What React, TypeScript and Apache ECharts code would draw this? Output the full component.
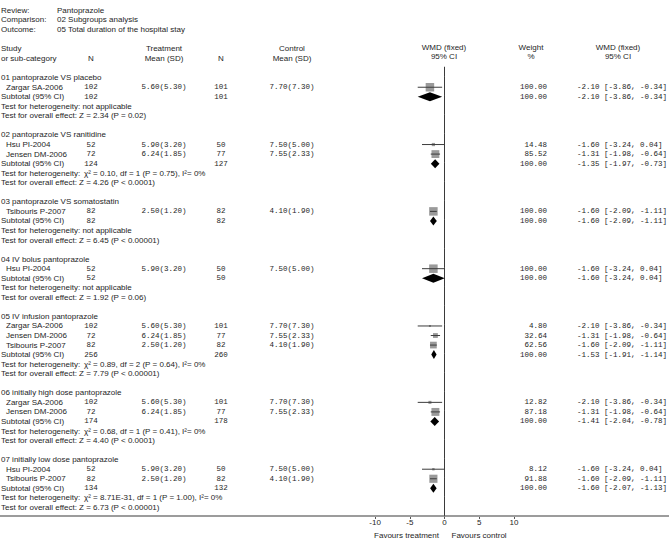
import React, { useEffect, useRef } from "react";
import * as echarts from "echarts";

const reviewLabels = ["Review:", "Comparison:", "Outcome:"];
const reviewValues = ["Pantoprazole", "02 Subgroups analysis", "05 Total duration of the hospital stay"];

const groupNames = [
  "01 pantoprazole VS placebo",
  "02 pantoprazole VS ranitidine",
  "03 pantoprazole VS somatostatin",
  "04 IV bolus pantoprazole",
  "05 IV infusion pantoprazole",
  "06 initially high dose pantoprazole",
  "07 initially low dose pantoprazole",
];

const studyGroup = [0, 1, 1, 2, 3, 4, 4, 4, 5, 5, 6, 6];
const studyNames = [
  "Zargar SA-2006", "Hsu PI-2004", "Jensen DM-2006", "Tsibouris P-2007", "Hsu PI-2004",
  "Zargar SA-2006", "Jensen DM-2006", "Tsibouris P-2007", "Zargar SA-2006", "Jensen DM-2006",
  "Hsu PI-2004", "Tsibouris P-2007",
];
const treatN = [102, 52, 72, 82, 52, 102, 72, 82, 102, 72, 52, 82];
const treatMeanSD = [
  "5.60(5.30)", "5.90(3.20)", "6.24(1.85)", "2.50(1.20)", "5.90(3.20)", "5.60(5.30)",
  "6.24(1.85)", "2.50(1.20)", "5.60(5.30)", "6.24(1.85)", "5.90(3.20)", "2.50(1.20)",
];
const ctrlN = [101, 50, 77, 82, 50, 101, 77, 82, 101, 77, 50, 82];
const ctrlMeanSD = [
  "7.70(7.30)", "7.50(5.00)", "7.55(2.33)", "4.10(1.90)", "7.50(5.00)", "7.70(7.30)",
  "7.55(2.33)", "4.10(1.90)", "7.70(7.30)", "7.55(2.33)", "7.50(5.00)", "4.10(1.90)",
];
const studyWeight = [100.0, 14.48, 85.52, 100.0, 100.0, 4.8, 32.64, 62.56, 12.82, 87.18, 8.12, 91.88];
const studyWmd = [-2.1, -1.6, -1.31, -1.6, -1.6, -2.1, -1.31, -1.6, -2.1, -1.31, -1.6, -1.6];
const studyLow = [-3.86, -3.24, -1.98, -2.09, -3.24, -3.86, -1.98, -2.09, -3.86, -1.98, -3.24, -2.09];
const studyHigh = [-0.34, 0.04, -0.64, -1.11, 0.04, -0.34, -0.64, -1.11, -0.34, -0.64, 0.04, -1.11];

const subTreatN = [102, 124, 82, 52, 256, 174, 134];
const subCtrlN = [101, 127, 82, 50, 260, 178, 132];
const subWmd = [-2.1, -1.35, -1.6, -1.6, -1.53, -1.41, -1.6];
const subLow = [-3.86, -1.97, -2.09, -3.24, -1.91, -2.04, -2.07];
const subHigh = [-0.34, -0.73, -1.11, 0.04, -1.14, -0.78, -1.13];
const hetTests = [
  "not applicable",
  "χ² = 0.10, df = 1 (P = 0.75), I²= 0%",
  "not applicable",
  "not applicable",
  "χ² = 0.89, df = 2 (P = 0.64), I²= 0%",
  "χ² = 0.68, df = 1 (P = 0.41), I²= 0%",
  "χ² = 8.71E-31, df = 1 (P = 1.00), I²= 0%",
];
const overallTests = [
  "Z = 2.34 (P = 0.02)",
  "Z = 4.26 (P < 0.0001)",
  "Z = 6.45 (P < 0.00001)",
  "Z = 1.92 (P = 0.06)",
  "Z = 7.79 (P < 0.00001)",
  "Z = 4.40 (P < 0.0001)",
  "Z = 6.73 (P < 0.00001)",
];
const xTicks = [-10, -5, 0, 5, 10];
const nullEffect = 0;
const favourLabels = ["Favours treatment", "Favours control"];

// layout
const W = 669;
const H = 542;
const ROW0 = 77.7;
const ROWH = 9.549;
const Y_MIN = -1.15;
const Y_MAX = 45.9;
const ZERO_X = 444.5;
const PX_PER_UNIT = 6.94;
const SANS = "'Liberation Sans', Arial, sans-serif";
const MONO = "'Liberation Mono', 'Courier New', monospace";
const TXT = "#1e1e1e";

const COL = {
  name: 1,
  indent: 6,
  tN: 91,
  tMean: 164,
  cN: 221,
  cMean: 292,
  plot: 444,
  weight: 547,
  ci: 577,
  weightHead: 531,
  ciHead: 618,
  het: 84,
};

const rowY = (r: number) => ROW0 + r * ROWH;

const fmt = (v: number) => v.toFixed(2);
const ciText = (m: number, l: number, h: number) => `${fmt(m)} [${fmt(l)}, ${fmt(h)}]`;

export default function App() {
  const ref = useRef<HTMLDivElement>(null);

  useEffect(() => {
    if (!ref.current) return;
    const chart = echarts.init(ref.current, null, { renderer: "svg", width: W, height: H });

    const texts: any[] = [];
    const sans = (text: string, x: number, y: number, align = "left") =>
      texts.push({
        type: "text",
        silent: true,
        style: { text, x, y, fill: TXT, fontSize: 8, fontFamily: SANS, textAlign: align, textVerticalAlign: "middle" },
      });
    const mono = (text: string, x: number, y: number, align = "left") =>
      texts.push({
        type: "text",
        silent: true,
        style: { text, x, y, fill: TXT, fontSize: 7.5, fontFamily: MONO, textAlign: align, textVerticalAlign: "middle" },
      });

    reviewLabels.forEach((l, i) => {
      sans(l, 1, 10 + i * 9.5);
      sans(reviewValues[i], 57, 10 + i * 9.5);
    });

    const h1 = 48.5;
    const h2 = 58;
    sans("Study", 1, h1);
    sans("or sub-category", 1, h2);
    sans("N", COL.tN, h2, "center");
    sans("Treatment", COL.tMean, h1, "center");
    sans("Mean (SD)", COL.tMean, h2, "center");
    sans("N", COL.cN, h2, "center");
    sans("Control", COL.cMean, h1, "center");
    sans("Mean (SD)", COL.cMean, h2, "center");
    sans("WMD (fixed)", COL.plot, h1 - 1.5, "center");
    sans("95% CI", COL.plot, h2 - 1.5, "center");
    sans("Weight", COL.weightHead, h1 - 1.5, "center");
    sans("%", COL.weightHead, h2 - 1.5, "center");
    sans("WMD (fixed)", COL.ciHead, h1 - 1.5, "center");
    sans("95% CI", COL.ciHead, h2 - 1.5, "center");

    const forestData: any[] = [];
    let r = 0;
    groupNames.forEach((g, gi) => {
      sans(g, COL.name, rowY(r));
      r++;
      studyGroup.forEach((sg, si) => {
        if (sg !== gi) return;
        const y = rowY(r);
        sans(studyNames[si], COL.indent, y);
        mono(String(treatN[si]), COL.tN, y, "center");
        mono(treatMeanSD[si], COL.tMean, y, "center");
        mono(String(ctrlN[si]), COL.cN, y, "center");
        mono(ctrlMeanSD[si], COL.cMean, y, "center");
        mono(fmt(studyWeight[si]), COL.weight, y, "right");
        mono(ciText(studyWmd[si], studyLow[si], studyHigh[si]), COL.ci, y);
        forestData.push([studyWmd[si], studyLow[si], studyHigh[si], r, studyWeight[si], 0]);
        r++;
      });
      const y = rowY(r);
      sans("Subtotal (95% CI)", COL.name, y);
      mono(String(subTreatN[gi]), COL.tN, y, "center");
      mono(String(subCtrlN[gi]), COL.cN, y, "center");
      mono("100.00", COL.weight, y, "right");
      mono(ciText(subWmd[gi], subLow[gi], subHigh[gi]), COL.ci, y);
      forestData.push([subWmd[gi], subLow[gi], subHigh[gi], r, 100, 1]);
      r++;
      const het = hetTests[gi];
      if (het === "not applicable") {
        sans("Test for heterogeneity: not applicable", COL.name, rowY(r));
      } else {
        sans("Test for heterogeneity:", COL.name, rowY(r));
        sans(het, COL.het, rowY(r));
      }
      r++;
      sans("Test for overall effect: " + overallTests[gi], COL.name, rowY(r));
      r++;
      r++;
    });

    // null-effect line: drawn as short segments, one per row band
    forestData.unshift([nullEffect, nullEffect, nullEffect, Y_MIN, 0, 2]);

    const axisY = rowY(Y_MAX);
    const gridTop = rowY(Y_MIN);

    texts.push({
      type: "rect",
      silent: true,
      shape: { x: 0, y: axisY - 1, width: W, height: 2 },
      style: { fill: "#9c9c9c" },
      z: 1,
    });
    texts.push({
      type: "text",
      silent: true,
      style: { text: favourLabels[0], x: 439, y: 535.7, fill: TXT, fontSize: 8, fontFamily: SANS, textAlign: "right", textVerticalAlign: "middle" },
    });
    texts.push({
      type: "text",
      silent: true,
      style: { text: favourLabels[1], x: 451.5, y: 535.7, fill: TXT, fontSize: 8, fontFamily: SANS, textAlign: "left", textVerticalAlign: "middle" },
    });

    const xMin = xTicks[0];
    const xMax = xTicks[xTicks.length - 1];

    chart.setOption({
      animation: false,
      backgroundColor: "#ffffff",
      grid: {
        left: ZERO_X + xMin * PX_PER_UNIT,
        width: (xMax - xMin) * PX_PER_UNIT,
        top: gridTop,
        height: axisY - gridTop,
        containLabel: false,
      },
      xAxis: {
        type: "value",
        position: "bottom",
        min: xMin,
        max: xMax,
        interval: 5,
        axisLine: { show: false, onZero: false },
        axisTick: { show: true, length: 3, inside: false, lineStyle: { color: "#555555", width: 1 } },
        axisLabel: { fontSize: 8, color: TXT, fontFamily: SANS, margin: 3 },
        splitLine: { show: false },
      },
      yAxis: {
        type: "value",
        inverse: true,
        min: Y_MIN,
        max: Y_MAX,
        show: false,
        splitLine: { show: false },
      },
      graphic: texts,
      series: [
        {
          type: "custom",
          silent: true,
          clip: false,
          dimensions: ["wmd", "low", "high", "row", "weight", "kind"],
          encode: { x: [0, 1, 2], y: 3 },
          data: forestData,
          z: 3,
          renderItem: (params: any, api: any) => {
            const row = api.value(3);
            const kind = api.value(5);
            const c = api.coord([api.value(0), row]);
            const lo = api.coord([api.value(1), row]);
            const hi = api.coord([api.value(2), row]);
            if (kind === 2) {
              const children: any[] = [];
              for (let v = Y_MIN; v < Y_MAX; v += 1) {
                const a = api.coord([api.value(0), v]);
                const b = api.coord([api.value(0), Math.min(v + 1, Y_MAX)]);
                children.push({
                  type: "rect",
                  shape: { x: a[0] - 0.5, y: a[1], width: 1, height: b[1] - a[1] + 0.3 },
                  style: { fill: "#3a3a3a" },
                });
              }
              return { type: "group", children };
            }
            if (kind === 1) {
              const hh = 4.5;
              return {
                type: "polygon",
                shape: {
                  points: [
                    [lo[0], c[1]],
                    [c[0], c[1] - hh],
                    [hi[0], c[1]],
                    [c[0], c[1] + hh],
                  ],
                },
                style: { fill: "#000000" },
              };
            }
            const size = Math.max(2, Math.sqrt(api.value(4) / 100) * 8.5);
            return {
              type: "group",
              children: [
                {
                  type: "rect",
                  shape: { x: c[0] - size / 2, y: c[1] - size / 2, width: size, height: size },
                  style: { fill: "#9a9a9a" },
                },
                {
                  type: "line",
                  shape: { x1: lo[0], y1: c[1], x2: hi[0], y2: c[1] },
                  style: { stroke: "#3c3c3c", lineWidth: 1 },
                },
              ],
            };
          },
        },
      ],
    });

    return () => chart.dispose();
  }, []);

  return (
    <div
      ref={ref}
      style={{ position: "absolute", left: 0, top: 0, width: W, height: H, background: "#fff" }}
    />
  );
}
